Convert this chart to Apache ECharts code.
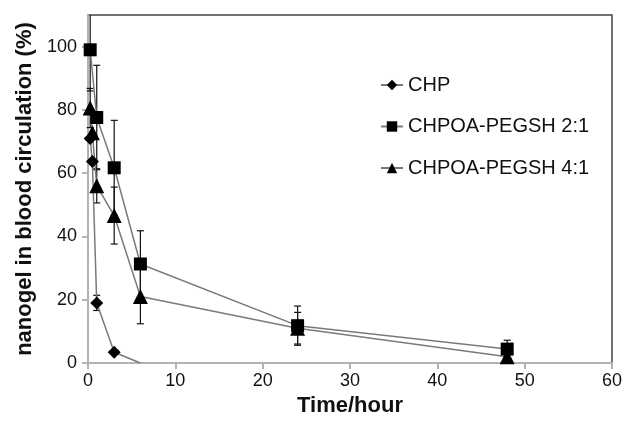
<!DOCTYPE html>
<html>
<head>
<meta charset="utf-8">
<script src="https://cdn.jsdelivr.net/npm/echarts@6/dist/echarts.min.js"></script>
<style>
  html, body { margin: 0; padding: 0; background: #fff; }
  #chart { width: 625px; height: 422px; }
</style>
</head>
<body>
<div id="chart"></div>
<script>
// time points (hours) and mean values (%)
const chpTime = [0.25, 0.5, 1, 3, 6]
const chpValue = [71, 63.7, 19, 3.4, 0]
const chpErr = [0, 0, 2.4, 0.5, 0]

const peg21Time = [0.25, 1, 3, 6, 24, 48]
const peg21Value = [99, 77.6, 61.7, 31.3, 11.8, 4.4]
const peg21Err = [13, 16.5, 15, 10.5, 6.2, 2.8]

const peg41Time = [0.25, 0.5, 1, 3, 6, 24, 48]
const peg41Value = [80.6, 72.8, 56, 46.6, 21, 11, 2]
const peg41Err = [6.2, 0, 5.4, 9, 8.6, 5, 1]

const xTicks = [0, 10, 20, 30, 40, 50, 60]
const yTicks = [0, 20, 40, 60, 80, 100]

const seriesNames = ['CHP', 'CHPOA-PEGSH 2:1', 'CHPOA-PEGSH 4:1']

const pairs = (t, v) => t.map((x, i) => [x, v[i]])
const errRows = (t, v, e) => t.map((x, i) => [x, v[i] - e[i], v[i] + e[i]]).filter((r, i) => e[i] > 0)

const errorBars = (rows) => ({
    type: 'custom',
    silent: true,
    z: 3,
    data: rows,
    renderItem: (params, api) => {
        const x = api.value(0)
        const lo = api.coord([x, api.value(1)])
        const hi = api.coord([x, api.value(2)])
        const top = params.coordSys.y
        const bottom = params.coordSys.y + params.coordSys.height
        const y1 = Math.min(lo[1], bottom)
        const y2 = Math.max(hi[1], top)
        const style = { stroke: '#111', lineWidth: 1.2 }
        const children = [
            { type: 'line', shape: { x1: lo[0], y1: y1, x2: lo[0], y2: y2 }, style },
        ]
        if (lo[1] <= bottom) children.push({ type: 'line', shape: { x1: lo[0] - 3.5, y1: lo[1], x2: lo[0] + 3.5, y2: lo[1] }, style })
        if (hi[1] >= top) children.push({ type: 'line', shape: { x1: hi[0] - 3.5, y1: hi[1], x2: hi[0] + 3.5, y2: hi[1] }, style })
        return { type: 'group', children }
    },
})

const lineSeries = (name, data, symbol, size) => ({
    name,
    type: 'line',
    data,
    symbol,
    symbolSize: size,
    z: 4,
    clip: true,
    animation: false,
    lineStyle: { color: '#7a7a7a', width: 1.5 },
    itemStyle: { color: '#000', borderWidth: 0 },
})

const chpData = pairs(chpTime, chpValue)
chpData[chpData.length - 1] = { value: chpData[chpData.length - 1], symbolSize: 0 }

const chart = echarts.init(document.getElementById('chart'), null, { renderer: 'canvas' })
chart.setOption({
    backgroundColor: '#fff',
    animation: false,
    textStyle: { fontFamily: 'Liberation Sans, Arial, sans-serif' },
    grid: {
        left: 88, right: 12, top: 15, bottom: 53,
        show: true,
        borderColor: '#444',
        borderWidth: 1.5,
        backgroundColor: 'transparent',
    },
    legend: {
        data: seriesNames,
        orient: 'vertical',
        left: 375,
        top: 70,
        itemGap: 21.5,
        itemWidth: 22,
        itemHeight: 13,
        textStyle: { fontSize: 20, color: '#111' },
    },
    xAxis: {
        type: 'value',
        min: xTicks[0],
        max: xTicks[xTicks.length - 1],
        interval: xTicks[1] - xTicks[0],
        name: 'Time/hour',
        nameLocation: 'middle',
        nameGap: 32,
        nameTextStyle: { fontSize: 22, fontWeight: 'bold', color: '#111' },
        axisLine: { lineStyle: { color: '#b3b3b3', width: 2 } },
        axisTick: { show: true, length: 6, lineStyle: { color: '#b3b3b3', width: 2 } },
        axisLabel: { fontSize: 18, color: '#111', margin: 9 },
        splitLine: { show: false },
    },
    yAxis: {
        type: 'value',
        min: yTicks[0],
        max: 110,
        interval: yTicks[1] - yTicks[0],
        name: 'nanogel in blood circulation (%)',
        nameLocation: 'middle',
        nameGap: 50,
        nameTextStyle: { fontSize: 22, fontWeight: 'bold', color: '#111' },
        axisLine: { lineStyle: { color: '#b3b3b3', width: 2 } },
        axisTick: { show: true, length: 6, lineStyle: { color: '#b3b3b3', width: 2 } },
        axisLabel: { fontSize: 18, color: '#111', margin: 11, showMaxLabel: false },
        splitLine: { show: false },
    },
    series: [
        lineSeries(seriesNames[0], chpData, 'diamond', 13),
        lineSeries(seriesNames[1], pairs(peg21Time, peg21Value), 'rect', 13),
        lineSeries(seriesNames[2], pairs(peg41Time, peg41Value), 'triangle', 15),
        errorBars(errRows(chpTime, chpValue, chpErr)),
        errorBars(errRows(peg21Time, peg21Value, peg21Err)),
        errorBars(errRows(peg41Time, peg41Value, peg41Err)),
    ],
})
</script>
</body>
</html>
